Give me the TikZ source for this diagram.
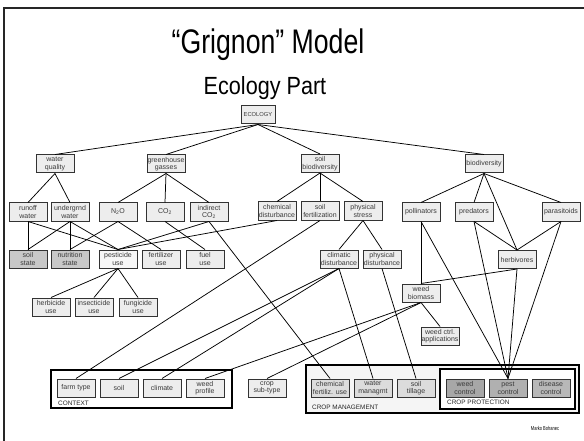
\documentclass[tikz,border=0pt]{standalone}
\usepackage{fontspec}
\setmainfont{Liberation Sans}
\usepackage{graphicx}
\definecolor{boxline}{HTML}{333333}
\definecolor{boxfill}{HTML}{EDEDED}
\definecolor{boxtext}{HTML}{3A3A3A}
\definecolor{statefill}{HTML}{C8C8C8}
\definecolor{mgmtfill}{HTML}{DCDCDC}
\definecolor{protfill}{HTML}{B0B0B0}
\definecolor{groupfill}{HTML}{F5F5F5}
\tikzset{
  attr/.style={draw=boxline, fill=boxfill, line width=1pt, text=boxtext,
    minimum width=38pt, minimum height=18pt, inner sep=0.5pt, align=center,
    font=\fontsize{7}{7.6}\selectfont},
  statebox/.style={attr, fill=statefill},
  mgmtbox/.style={attr, fill=mgmtfill},
  protbox/.style={attr, fill=protfill},
  whitebox/.style={attr, fill=white!97!black},
  group/.style={draw=black, line width=1.6pt},
  grouplabel/.style={anchor=west, inner sep=0pt, text=black!85,
    font=\fontsize{6.4}{7}\selectfont},
  link/.style={draw=black, line width=0.75pt},
}
\begin{document}
\begin{tikzpicture}[x=1pt, y=-1pt]
\useasboundingbox (0,0) rectangle (584,441);
\fill[white] (0,0) rectangle (584,441);
% outer frame
\draw[line width=1.8pt, black!85] (4,8) rectangle (600,460);

% titles
\node (title) at (268,45) {\scalebox{0.86}[1.1]{\fontsize{31}{31}\selectfont “Grignon” Model}};
\node (subtitle) at (265,88) {\scalebox{0.94}[1.08]{\fontsize{23}{23}\selectfont Ecology Part}};

% group frames
\draw[group] (51,370) rectangle (232,408);
\node[grouplabel] (ctxlabel) at (58,403) {CONTEXT};
\draw[group, fill=groupfill] (306,365) rectangle (579,413);
\node[grouplabel] (mgmtlabel) at (312,407.5) {CROP MANAGEMENT};
\draw[group, fill=white] (440,369) rectangle (575,409);
\node[grouplabel] (protlabel) at (447,402) {CROP PROTECTION};

% top of the tree
\node[attr, minimum width=34pt, font=\fontsize{5.8}{6}\selectfont] (eco) at (258,115) {ECOLOGY};

\node[attr] (wq)   at (55,164)  {water\\quality};
\node[attr] (gg)   at (166,164) {greenhouse\\gasses};
\node[attr] (sb)   at (320,163.5) {soil\\biodiversity};
\node[attr] (bd)   at (484,164) {biodiversity};

\node[attr] (rw)   at (28,212)  {runoff\\water};
\node[attr] (uw)   at (70,212)  {undergrnd\\water};
\node[attr] (n2o)  at (118,212) {N\textsubscript{2}O};
\node[attr] (co2)  at (165,212) {CO\textsubscript{2}};
\node[attr] (ico2) at (209,212) {indirect\\CO\textsubscript{2}};
\node[attr] (cd)   at (277,211) {chemical\\disturbance};
\node[attr] (sf)   at (320,211) {soil\\fertilization};
\node[attr] (ps)   at (363,211) {physical\\stress};
\node[attr] (pol)  at (421,212) {pollinators};
\node[attr] (pred) at (474,212) {predators};
\node[attr] (par)  at (561,212) {parasitoids};

\node[statebox] (ss)   at (28,259)  {soil\\state};
\node[statebox] (ns)   at (70,259)  {nutrition\\state};
\node[whitebox] (pu)   at (118,259) {pesticide\\use};
\node[attr] (fu)   at (161,259) {fertilizer\\use};
\node[attr] (fuel) at (205,259) {fuel\\use};
\node[attr] (clim) at (339,259) {climatic\\disturbance};
\node[attr] (pd)   at (382,259) {physical\\disturbance};
\node[attr] (herb) at (517,259.5) {herbivores};

\node[attr] (wb)   at (421,293) {weed\\biomass};
\node[attr] (hu)   at (51,307)  {herbicide\\use};
\node[attr] (iu)   at (94,307)  {insecticide\\use};
\node[attr] (fgu)  at (138,307) {fungicide\\use};
\node[attr] (wca)  at (440,336) {weed ctrl.\\applications};

% context, crop and management factors
\node[attr] (ft)   at (76,388)  {farm type};
\node[attr] (soil) at (119,388) {soil};
\node[attr] (climate) at (162,388) {climate};
\node[attr] (wp)   at (205,388) {weed\\profile};
\node[attr] (cst)  at (267,388) {crop\\sub-type};
\node[mgmtbox] (cfu) at (330,388) {chemical\\fertiliz. use};
\node[mgmtbox] (wm)  at (373,388) {water\\managmt};
\node[mgmtbox] (st)  at (416,388) {soil\\tillage};
\node[protbox, fill=protfill!95!black] (wc) at (465,388) {weed\\control};
\node[protbox] (pc)  at (508,388) {pest\\control};
\node[protbox, fill=protfill!90!white] (dc) at (551,388) {disease\\control};

% links
\begin{scope}[link]
\draw (eco.south) -- (wq.north);
\draw (eco.south) -- (gg.north);
\draw (eco.south) -- (sb.north);
\draw (eco.south) -- (bd.north);

\draw (wq.south) -- (rw.north);
\draw (wq.south) -- (uw.north);
\draw (gg.south) -- (n2o.north);
\draw (gg.south) -- (co2.north);
\draw (gg.south) -- (ico2.north);
\draw (sb.south) -- (cd.north);
\draw (sb.south) -- (sf.north);
\draw (sb.south) -- (ps.north);
\draw (bd.south) -- (pol.north);
\draw (bd.south) -- (pred.north);
\draw (bd.south) -- (herb.north);
\draw (bd.south) -- (par.north);
\draw (pred.south) -- (herb.north);
\draw (par.south) -- (herb.north);

\draw (rw.south) -- (ss.north);
\draw (rw.south) -- (pu.north);
\draw (uw.south) -- (ss.north);
\draw (uw.south) -- (ns.north);
\draw (uw.south) -- (pu.north);
\draw (n2o.south) -- (ns.north);
\draw (n2o.south) -- (fu.north);
\draw (co2.south) -- (fuel.north);
\draw (ico2.south) -- (pu.north);
\draw (cd.south) -- (pu.north);
\draw (ico2.south) -- (cfu.north);

\draw (pu.south) -- (hu.north);
\draw (pu.south) -- (iu.north);
\draw (pu.south) -- (fgu.north);

\draw (sf.south) -- (ft.north);
\draw (ps.south) -- (clim.north);
\draw (ps.south) -- (pd.north);
\draw (clim.south) -- (soil.north);
\draw (clim.south) -- (climate.north);
\draw (clim.south) -- (wm.north);
\draw (pd.south) -- (st.north);

\draw (pol.south) -- (wb.north);
\draw (herb.south) -- (wb.north);
\draw (wb.south) -- (wp.north);
\draw (wb.south) -- (cst.north);
\draw (wb.south) -- (wca.north);

\draw (pol.south) -- (pc.north);
\draw (pred.south) -- (pc.north);
\draw (herb.south) -- (pc.north);
\draw (par.south) -- (pc.north);
\end{scope}

% author
\node (author) at (545,428) {\scalebox{0.8}[1.15]{\fontsize{5}{5}\selectfont Marko Bohanec}};
\end{tikzpicture}
\end{document}
